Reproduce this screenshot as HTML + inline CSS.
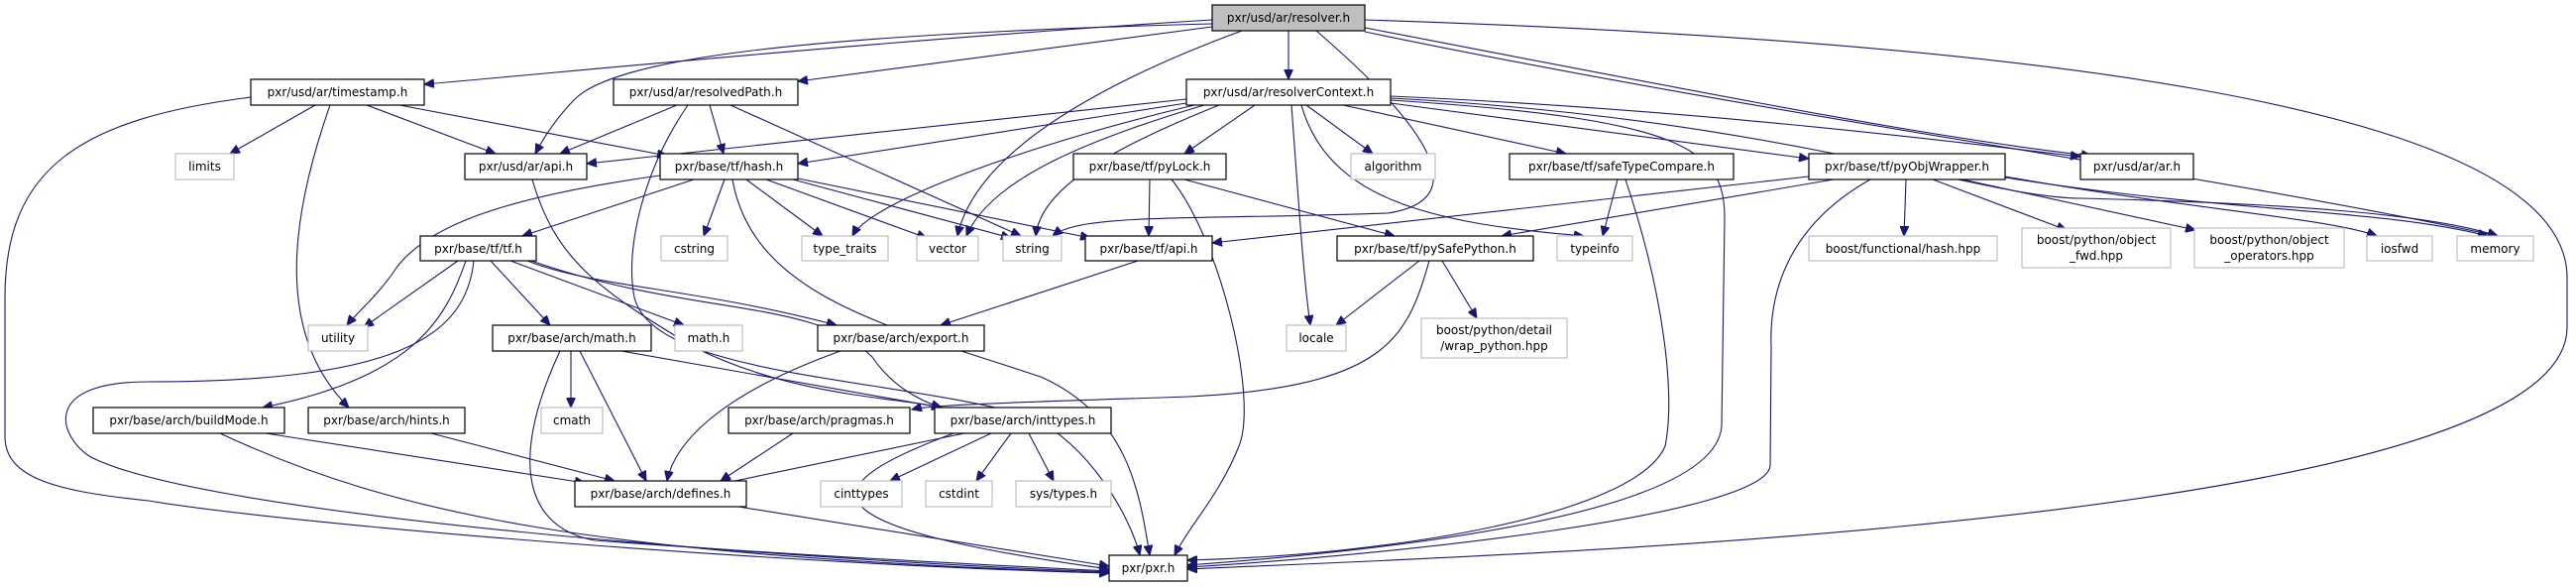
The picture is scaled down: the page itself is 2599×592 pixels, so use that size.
<!DOCTYPE html>
<html><head><meta charset="utf-8"><style>
html,body{margin:0;padding:0;background:#fff;}
svg{display:block;}
text{font-family:"DejaVu Sans","Liberation Sans",sans-serif;font-size:12px;fill:#000;}
.n{fill:#fff;stroke:#000;stroke-width:1.2;}
.x{fill:#fff;stroke:#bfbfbf;stroke-width:1.2;}
.e{fill:none;stroke:#191970;stroke-width:1.1;marker-end:url(#a);}
</style></head><body>
<svg width="2599" height="592" viewBox="0 0 2599 592" xmlns="http://www.w3.org/2000/svg">
<defs><marker id="a" markerUnits="userSpaceOnUse" markerWidth="11" markerHeight="9" refX="10" refY="4.5" orient="auto"><path d="M0,0 L10,4.5 L0,9 z" fill="#191970" stroke="#191970"/></marker></defs>
<g>
<!-- resolver.h -->
<path class="e" d="M1223,20 C900,40 600,70 428,85"/>
<path class="e" d="M1223,27 C1050,50 900,70 805,82"/>
<path class="e" d="M1223,24 C800,35 620,60 580,100 C560,120 548,140 540,155"/>
<path class="e" d="M1300,31 L1300,80"/>
<path class="e" d="M1253,31 C1120,80 985,150 966,238"/>
<path class="e" d="M1328,31 C1420,110 1500,200 1400,215 C1200,222 1090,215 1062,238"/>
<path class="e" d="M1377,28 C1700,90 1950,140 2110,157"/>
<path class="e" d="M1377,32 C1800,120 2200,170 2520,238"/>
<path class="e" d="M1377,20 C2000,40 2590,100 2590,280 L2590,330 C2590,530 1500,560 1198,574"/>
<!-- resolverContext.h -->
<path class="e" d="M1197,100 L592,165"/>
<path class="e" d="M1197,104 L805,165"/>
<path class="e" d="M1215,106 C1100,140 1000,180 975,238"/>
<path class="e" d="M1205,106 C1060,140 880,200 860,238"/>
<path class="e" d="M1230,106 C1120,150 1050,190 1045,238"/>
<path class="e" d="M1266,106 L1195,155"/>
<path class="e" d="M1303,106 C1310,200 1315,280 1322,328"/>
<path class="e" d="M1318,106 L1385,155"/>
<path class="e" d="M1355,106 L1580,155"/>
<path class="e" d="M1313,106 C1340,200 1440,225 1598,238"/>
<path class="e" d="M1403,104 L1825,160"/>
<path class="e" d="M1403,97 C1700,110 1950,140 2099,158"/>
<path class="e" d="M1403,99 C1800,120 2000,200 2100,200 C2300,205 2450,215 2520,238"/>
<path class="e" d="M1403,101 C1700,120 1740,150 1740,220 L1737,430 C1730,520 1400,555 1198,570"/>
<!-- timestamp -->
<path class="e" d="M253,98 C80,120 5,170 5,300 L5,440 C5,480 50,495 150,505 C300,530 800,570 1119,578"/>
<path class="e" d="M318,106 L232,155"/>
<path class="e" d="M333,106 C300,200 270,330 352,411"/>
<path class="e" d="M370,106 L500,155"/>
<path class="e" d="M403,106 L673,157"/>
<!-- resolvedPath -->
<path class="e" d="M683,106 L565,155"/>
<path class="e" d="M716,106 L730,155"/>
<path class="e" d="M737,106 L1030,238"/>
<path class="e" d="M694,106 C650,170 630,250 640,300 C660,380 900,380 1040,420 C1100,450 1140,520 1150,560"/>
<!-- ar/api.h -->
<path class="e" d="M537,181 C560,260 600,290 700,350 C800,400 900,400 950,411"/>
<!-- hash -->
<path class="e" d="M666,177 C500,200 430,230 400,270 C380,300 360,315 350,328"/>
<path class="e" d="M700,181 L527,238"/>
<path class="e" d="M731,181 L710,238"/>
<path class="e" d="M753,181 L830,238"/>
<path class="e" d="M773,181 L935,240"/>
<path class="e" d="M800,181 L1020,240"/>
<path class="e" d="M805,180 L1100,240"/>
<path class="e" d="M739,181 C760,300 900,330 1050,380 C1140,420 1150,500 1160,560"/>
<!-- tf.h -->
<path class="e" d="M462,263 L367,330"/>
<path class="e" d="M470,263 C450,320 420,380 265,411"/>
<path class="e" d="M478,263 C470,340 400,385 150,385 C40,385 60,440 90,460 C200,520 800,565 1119,577"/>
<path class="e" d="M495,263 L555,328"/>
<path class="e" d="M515,263 L690,328"/>
<path class="e" d="M532,263 C600,290 700,290 844,328"/>
<path class="e" d="M536,263 C700,320 820,300 880,360 C900,390 930,405 950,411"/>
<!-- arch/math -->
<path class="e" d="M576,354 L576,411"/>
<path class="e" d="M585,354 L652,485"/>
<path class="e" d="M627,354 L950,411"/>
<path class="e" d="M565,354 C520,450 520,530 600,545 C800,560 1000,570 1119,576"/>
<!-- export / tf api -->
<path class="e" d="M848,354 C720,400 680,450 673,485"/>
<path class="e" d="M1148,263 L949,328"/>
<!-- buildMode / hints / pragmas -->
<path class="e" d="M268,437 L590,487"/>
<path class="e" d="M222,437 C400,520 600,560 1119,578"/>
<path class="e" d="M435,437 L620,485"/>
<path class="e" d="M800,437 L727,485"/>
<!-- inttypes -->
<path class="e" d="M973,437 L727,488"/>
<path class="e" d="M1000,437 L898,485"/>
<path class="e" d="M1020,437 L985,485"/>
<path class="e" d="M1038,437 L1063,485"/>
<path class="e" d="M962,437 C820,490 800,530 1119,574"/>
<!-- defines -->
<path class="e" d="M745,511 L1119,571"/>
<!-- pyLock -->
<path class="e" d="M1160,181 L1159,238"/>
<path class="e" d="M1195,181 L1407,238"/>
<path class="e" d="M1182,181 C1230,240 1270,400 1250,450 C1230,500 1200,530 1185,560"/>
<!-- pySafePython -->
<path class="e" d="M1432,263 L1348,328"/>
<path class="e" d="M1442,263 C1420,340 1400,390 1200,400 C1050,405 940,408 920,413"/>
<path class="e" d="M1455,263 L1490,321"/>
<!-- safeTypeCompare -->
<path class="e" d="M1632,181 L1617,238"/>
<path class="e" d="M1640,181 C1680,300 1690,400 1680,450 C1650,520 1400,560 1198,565"/>
<!-- pyObjWrapper -->
<path class="e" d="M1825,178 L1223,245"/>
<path class="e" d="M1850,181 L1515,238"/>
<path class="e" d="M1923,181 L1921,238"/>
<path class="e" d="M1950,181 L2085,232"/>
<path class="e" d="M1980,181 L2215,232"/>
<path class="e" d="M2023,178 C2200,210 2350,220 2398,238"/>
<path class="e" d="M2023,179 C2250,215 2400,210 2510,238"/>
<path class="e" d="M1887,181 C1800,230 1785,300 1787,350 L1786,470 C1780,520 1400,560 1198,572"/>
</g>
<g>
<rect x="1223" y="5" width="154" height="26" fill="#bfbfbf" stroke="#000" stroke-width="1.2"/>
<text x="1300" y="22" text-anchor="middle">pxr/usd/ar/resolver.h</text>
<rect class="n" x="253" y="80" width="175" height="26"/><text x="340.5" y="97" text-anchor="middle">pxr/usd/ar/timestamp.h</text>
<rect class="n" x="619" y="80" width="186" height="26"/><text x="712" y="97" text-anchor="middle">pxr/usd/ar/resolvedPath.h</text>
<rect class="n" x="1197" y="80" width="206" height="26"/><text x="1300" y="97" text-anchor="middle">pxr/usd/ar/resolverContext.h</text>
<rect class="x" x="177" y="155" width="59" height="26"/><text x="206.5" y="172" text-anchor="middle">limits</text>
<rect class="n" x="469" y="155" width="123" height="26"/><text x="530.5" y="172" text-anchor="middle">pxr/usd/ar/api.h</text>
<rect class="n" x="666" y="155" width="139" height="26"/><text x="735.5" y="172" text-anchor="middle">pxr/base/tf/hash.h</text>
<rect class="n" x="1083" y="155" width="154" height="26"/><text x="1160" y="172" text-anchor="middle">pxr/base/tf/pyLock.h</text>
<rect class="x" x="1363" y="155" width="85" height="26"/><text x="1405.5" y="172" text-anchor="middle">algorithm</text>
<rect class="n" x="1523" y="155" width="226" height="26"/><text x="1636" y="172" text-anchor="middle">pxr/base/tf/safeTypeCompare.h</text>
<rect class="n" x="1825" y="155" width="198" height="26"/><text x="1924" y="172" text-anchor="middle">pxr/base/tf/pyObjWrapper.h</text>
<rect class="n" x="2099" y="155" width="114" height="26"/><text x="2156" y="172" text-anchor="middle">pxr/usd/ar/ar.h</text>
<rect class="n" x="424" y="238" width="117" height="25"/><text x="482.5" y="255" text-anchor="middle">pxr/base/tf/tf.h</text>
<rect class="x" x="667" y="238" width="67" height="25"/><text x="700.5" y="255" text-anchor="middle">cstring</text>
<rect class="x" x="809" y="238" width="87" height="25"/><text x="852.5" y="255" text-anchor="middle">type_traits</text>
<rect class="x" x="925" y="238" width="62" height="25"/><text x="956" y="255" text-anchor="middle">vector</text>
<rect class="x" x="1012" y="238" width="59" height="25"/><text x="1041.5" y="255" text-anchor="middle">string</text>
<rect class="n" x="1095" y="238" width="128" height="25"/><text x="1159" y="255" text-anchor="middle">pxr/base/tf/api.h</text>
<rect class="n" x="1349" y="238" width="198" height="25"/><text x="1448" y="255" text-anchor="middle">pxr/base/tf/pySafePython.h</text>
<rect class="x" x="1571" y="238" width="76" height="25"/><text x="1609" y="255" text-anchor="middle">typeinfo</text>
<rect class="x" x="1825" y="238" width="190" height="25"/><text x="1920" y="255" text-anchor="middle">boost/functional/hash.hpp</text>
<rect class="x" x="2040" y="230" width="150" height="40"/><text x="2115" y="246" text-anchor="middle">boost/python/object</text><text x="2115" y="262" text-anchor="middle">_fwd.hpp</text>
<rect class="x" x="2214" y="230" width="151" height="40"/><text x="2289.5" y="246" text-anchor="middle">boost/python/object</text><text x="2289.5" y="262" text-anchor="middle">_operators.hpp</text>
<rect class="x" x="2388" y="238" width="66" height="25"/><text x="2421" y="255" text-anchor="middle">iosfwd</text>
<rect class="x" x="2479" y="238" width="77" height="25"/><text x="2517.5" y="255" text-anchor="middle">memory</text>
<rect class="x" x="311" y="328" width="60" height="26"/><text x="341" y="345" text-anchor="middle">utility</text>
<rect class="n" x="497" y="328" width="160" height="26"/><text x="577" y="345" text-anchor="middle">pxr/base/arch/math.h</text>
<rect class="x" x="681" y="328" width="68" height="26"/><text x="715" y="345" text-anchor="middle">math.h</text>
<rect class="n" x="825" y="328" width="168" height="26"/><text x="909" y="345" text-anchor="middle">pxr/base/arch/export.h</text>
<rect class="x" x="1298" y="328" width="60" height="26"/><text x="1328" y="345" text-anchor="middle">locale</text>
<rect class="x" x="1434" y="321" width="147" height="40"/><text x="1507.5" y="337" text-anchor="middle">boost/python/detail</text><text x="1507.5" y="353" text-anchor="middle">/wrap_python.hpp</text>
<rect class="n" x="94" y="411" width="193" height="26"/><text x="190.5" y="428" text-anchor="middle">pxr/base/arch/buildMode.h</text>
<rect class="n" x="311" y="411" width="158" height="26"/><text x="390" y="428" text-anchor="middle">pxr/base/arch/hints.h</text>
<rect class="x" x="546" y="411" width="62" height="26"/><text x="577" y="428" text-anchor="middle">cmath</text>
<rect class="n" x="735" y="411" width="183" height="26"/><text x="826.5" y="428" text-anchor="middle">pxr/base/arch/pragmas.h</text>
<rect class="n" x="943" y="411" width="178" height="26"/><text x="1032" y="428" text-anchor="middle">pxr/base/arch/inttypes.h</text>
<rect class="n" x="580" y="485" width="173" height="26"/><text x="666.5" y="502" text-anchor="middle">pxr/base/arch/defines.h</text>
<rect class="x" x="828" y="485" width="82" height="26"/><text x="869" y="502" text-anchor="middle">cinttypes</text>
<rect class="x" x="934" y="485" width="67" height="26"/><text x="967.5" y="502" text-anchor="middle">cstdint</text>
<rect class="x" x="1025" y="485" width="96" height="26"/><text x="1073" y="502" text-anchor="middle">sys/types.h</text>
<rect class="n" x="1119" y="560" width="79" height="26"/><text x="1158.5" y="577" text-anchor="middle">pxr/pxr.h</text>
</g>
</svg>
</body></html>
